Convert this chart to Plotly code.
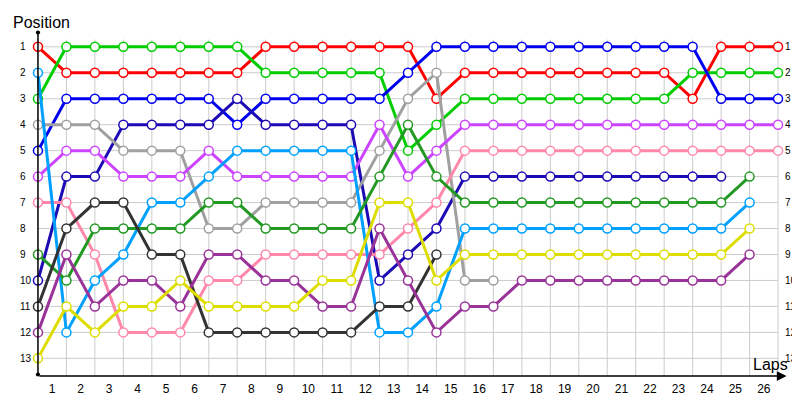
import plotly.graph_objects as go

# x index 0 is the grid, 1..26 are laps
laps = list(range(27))
lap_labels = [str(n) for n in range(1, 27)]
positions = list(range(1, 14))

red = [1, 2, 2, 2, 2, 2, 2, 2, 1, 1, 1, 1, 1, 1, 3, 2, 2, 2, 2, 2, 2, 2, 2, 3, 1, 1, 1]
green = [3, 1, 1, 1, 1, 1, 1, 1, 2, 2, 2, 2, 2, 5, 4, 3, 3, 3, 3, 3, 3, 3, 3, 2, 2, 2, 2]
blue = [5, 3, 3, 3, 3, 3, 3, 4, 3, 3, 3, 3, 3, 2, 1, 1, 1, 1, 1, 1, 1, 1, 1, 1, 3, 3, 3]
navy = [10, 6, 6, 4, 4, 4, 4, 3, 4, 4, 4, 4, 10, 9, 8, 6, 6, 6, 6, 6, 6, 6, 6, 6, 6]
gray = [4, 4, 4, 5, 5, 5, 8, 8, 7, 7, 7, 7, 5, 3, 2, 10, 10]
pink = [7, 7, 9, 12, 12, 12, 10, 10, 9, 9, 9, 9, 9, 8, 7, 5, 5, 5, 5, 5, 5, 5, 5, 5, 5, 5, 5]
violet = [6, 5, 5, 6, 6, 6, 5, 6, 6, 6, 6, 6, 4, 6, 5, 4, 4, 4, 4, 4, 4, 4, 4, 4, 4, 4, 4]
skyblue = [2, 12, 10, 9, 7, 7, 6, 5, 5, 5, 5, 5, 12, 12, 11, 8, 8, 8, 8, 8, 8, 8, 8, 8, 8, 7]
darkgreen = [9, 10, 8, 8, 8, 8, 7, 7, 8, 8, 8, 8, 6, 4, 6, 7, 7, 7, 7, 7, 7, 7, 7, 7, 7, 6]
black = [11, 8, 7, 7, 9, 9, 12, 12, 12, 12, 12, 12, 11, 11, 9]
plum = [12, 9, 11, 10, 10, 11, 9, 9, 10, 10, 11, 11, 8, 10, 12, 11, 11, 10, 10, 10, 10, 10, 10, 10, 10, 9]
yellow = [13, 11, 12, 11, 11, 10, 11, 11, 11, 11, 10, 10, 7, 7, 10, 9, 9, 9, 9, 9, 9, 9, 9, 9, 9, 8]

series = {
    "red": red, "green": green, "blue": blue, "navy": navy,
    "gray": gray, "pink": pink, "violet": violet, "skyblue": skyblue,
    "darkgreen": darkgreen, "black": black, "plum": plum, "yellow": yellow,
}
colors = {
    "red": "#ff0000", "green": "#00cc00", "blue": "#0000f0", "navy": "#1c0ab4",
    "gray": "#a0a0a0", "pink": "#ff88aa", "violet": "#cc44ff", "skyblue": "#00a0ff",
    "darkgreen": "#229922", "black": "#333333", "plum": "#993399", "yellow": "#dddd00",
}

FONT = "Liberation Sans"
fig = go.Figure()

for name, vals in series.items():
    fig.add_trace(go.Scatter(
        x=laps[:len(vals)], y=vals, mode="lines+markers", name=name,
        line=dict(color=colors[name], width=3),
        marker=dict(symbol="circle", size=9, color="white",
                    line=dict(color=colors[name], width=1.5)),
        cliponaxis=False, showlegend=False,
    ))

# grid
for k in laps[1:]:
    fig.add_shape(type="line", x0=k, x1=k, y0=0.72, y1=13.68, layer="below",
                  line=dict(color="#cccccc", width=1))
for p in positions:
    fig.add_shape(type="line", x0=0, x1=laps[-1], y0=p, y1=p, layer="below",
                  line=dict(color="#cccccc", width=1))

# axes with arrow / dots
fig.add_annotation(x=0, y=0.45, ax=0, ay=13.68, axref="x", ayref="y", text="",
                   showarrow=True, arrowhead=6, startarrowhead=6, arrowside="end+start",
                   arrowsize=0.7, startarrowsize=0.7, arrowwidth=1.5, arrowcolor="black")
fig.add_annotation(x=26.3, y=13.68, ax=0, ay=13.68, axref="x", ayref="y", text="",
                   showarrow=True, arrowhead=2, arrowsize=1.3, arrowwidth=1.5,
                   arrowcolor="black")

# position labels on both sides
for p in positions:
    fig.add_annotation(x=0, xref="paper", y=p, yref="y", text=str(p), showarrow=False,
                       xanchor="left", xshift=-10, font=dict(size=10, color="black"))
    fig.add_annotation(x=1, xref="paper", y=p, yref="y", text=str(p), showarrow=False,
                       xanchor="left", xshift=-5, font=dict(size=10, color="black"))

fig.add_annotation(x=0, xref="paper", y=1, yref="paper", text="Position", showarrow=False,
                   xanchor="left", yanchor="middle", xshift=-17, yshift=10,
                   font=dict(size=16, color="black"))
fig.add_annotation(x=25.05, y=13.25, text="Laps", showarrow=False,
                   xanchor="left", yanchor="middle", font=dict(size=16, color="black"))

fig.update_layout(
    width=800, height=400,
    margin=dict(l=20, r=20, t=24, b=25),
    plot_bgcolor="white", paper_bgcolor="white",
    font=dict(family=FONT, color="black"),
    xaxis=dict(range=[-0.35, 26.35], showgrid=False, zeroline=False, showline=False,
               tickvals=[k + 0.5 for k in laps[:-1]], ticktext=lap_labels,
               ticks="", ticklabelstandoff=4, tickfont=dict(size=12)),
    yaxis=dict(range=[13.68, 0.43], showgrid=False, zeroline=False, showline=False,
               showticklabels=False),
)

fig.write_html("out.html")
